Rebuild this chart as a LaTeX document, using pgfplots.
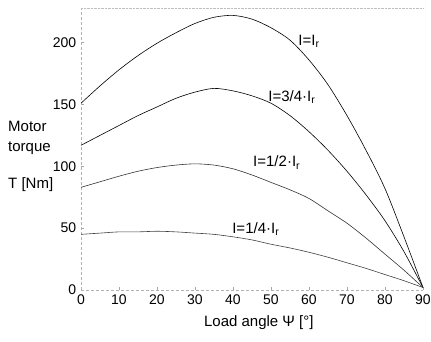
\documentclass[border=0pt]{standalone}
\usepackage{fontspec}
\setmainfont{Liberation Sans}
\usepackage{pgfplots}
\pgfplotsset{compat=1.18}
\begin{document}
\fontsize{14}{16}\selectfont
\begin{tikzpicture}
\begin{axis}[
  at={(0,0)}, anchor=south west,
  scale only axis, width=342pt, height=282pt,
  xmin=0, xmax=90, ymin=0, ymax=228,
  axis x line*=bottom, axis y line*=left,
  xtick={0,10,...,90}, ytick={0,50,...,200},
  tick style={gray!70, thin}, major tick length=3pt,
  axis line style={gray!60, densely dashed, thin, -},
  /pgf/number format/assume math mode=true,
  tick label style={font=\fontsize{14}{16}\selectfont},
  xlabel={Load angle Ψ [°]},
  x label style={at={(axis description cs:0.52,0)}, anchor=center, yshift=-33pt, font=\fontsize{15}{17}\selectfont},
  clip=false,
]
\draw[gray!50, densely dotted] (axis cs:0,228) -- (axis cs:90,228);
% I = I_r
\addplot[black, line width=0.6pt, smooth] coordinates {
(0,151) (5,165) (10,178) (15,189.5) (20,199.5) (25,208) (30,215.5) (35,220.5) (40,222)
(45,219) (50,212) (55,202) (60,186) (65,166) (70,141) (75,113) (80,82) (85,43) (90,2)};
% I = 3/4 I_r
\addplot[black, line width=0.6pt, smooth] coordinates {
(0,117) (5,125) (10,133) (15,141) (20,148) (25,155) (30,160) (35,163) (40,161)
(45,157) (50,151) (55,141) (60,128) (65,113) (70,96) (75,77) (80,56) (85,31) (90,2)};
% I = 1/2 I_r
\addplot[black!80, line width=0.6pt, smooth] coordinates {
(0,83) (5,87.5) (10,92) (15,96) (20,99) (25,101) (30,102) (35,101) (40,98)
(45,93) (50,87) (55,81) (60,74) (65,64) (70,54) (75,42) (80,29) (85,16) (90,2)};
% I = 1/4 I_r
\addplot[black!75, line width=0.6pt, smooth] coordinates {
(0,45) (5,46) (10,47) (15,47) (20,47.5) (25,47) (30,46) (35,45) (40,43)
(45,40.5) (50,37) (55,34) (60,30.5) (65,26.5) (70,22) (75,17.5) (80,12.5) (85,7.5) (90,2)};
\begin{scope}[font=\fontsize{15}{17}\selectfont]
\node at (axis cs:60,201) {I=I\textsubscript{r}};
\node at (axis cs:55.5,156) {I=3/4·I\textsubscript{r}};
\node at (axis cs:51.5,103) {I=1/2·I\textsubscript{r}};
\node at (axis cs:46,49) {I=1/4·I\textsubscript{r}};
\node[anchor=west, inner sep=0pt] at ([xshift=-73pt]axis cs:0,132) {Motor};
\node[anchor=west, inner sep=0pt] at ([xshift=-73pt]axis cs:0,115) {torque};
\node[anchor=west, inner sep=0pt] at ([xshift=-73pt]axis cs:0,85) {T [Nm]};
\end{scope}
\end{axis}
\pgfresetboundingbox
\path (-81pt,-51pt) rectangle (350pt,290pt);
\end{tikzpicture}
\end{document}
